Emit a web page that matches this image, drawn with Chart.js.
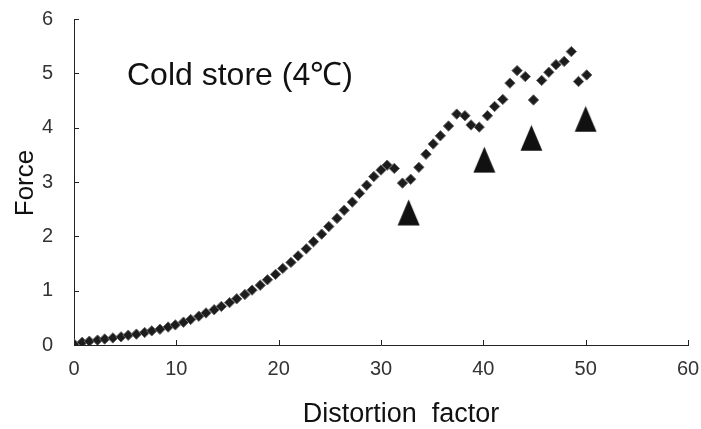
<!DOCTYPE html>
<html>
<head>
<meta charset="utf-8">
<script src="https://cdn.jsdelivr.net/npm/chart.js@4.4.1/dist/chart.umd.min.js"></script>
<style>
  html, body { margin: 0; padding: 0; background: #fff; }
  #wrap { width: 701px; height: 429px; position: relative; }
</style>
</head>
<body>
<div id="wrap"><canvas id="myChart" width="701" height="429"></canvas></div>
<script>
// measured force curve (diamonds)
const distortion = [0.0, 0.8, 1.5, 2.3, 3.0, 3.8, 4.6, 5.3, 6.1, 6.9, 7.6, 8.4, 9.2, 9.9,
    10.7, 11.4, 12.2, 12.9, 13.7, 14.4, 15.2, 15.9, 16.7, 17.4, 18.2, 18.9, 19.7, 20.4,
    21.2, 21.9, 22.7, 23.4, 24.2, 24.9, 25.7, 26.4, 27.2, 27.9, 28.6, 29.3, 30.0, 30.6,
    31.3, 32.1, 32.9, 33.7, 34.4, 35.1, 35.8, 36.6, 37.4, 38.2, 38.8, 39.6, 40.4, 41.1,
    41.9, 42.6, 43.3, 44.1, 44.9, 45.7, 46.4, 47.1, 47.9, 48.6, 49.3, 50.1];
const force = [0.02, 0.05, 0.07, 0.09, 0.11, 0.13, 0.15, 0.18, 0.20, 0.23, 0.26, 0.29, 0.33, 0.37,
    0.42, 0.47, 0.53, 0.59, 0.65, 0.71, 0.78, 0.85, 0.93, 1.01, 1.10, 1.20, 1.30, 1.41,
    1.52, 1.64, 1.77, 1.90, 2.04, 2.18, 2.33, 2.48, 2.63, 2.79, 2.94, 3.10, 3.22, 3.31,
    3.25, 2.98, 3.05, 3.27, 3.51, 3.70, 3.85, 4.03, 4.25, 4.22, 4.05, 4.01, 4.22, 4.39,
    4.52, 4.82, 5.05, 4.94, 4.51, 4.87, 5.02, 5.16, 5.22, 5.40, 4.85, 4.97];

// rupture points (triangles)
const ruptureX = [32.7, 40.1, 44.7, 50.0];
const ruptureY = [2.44, 3.41, 3.81, 4.16];

const xTicks = [0, 10, 20, 30, 40, 50, 60];
const yTicks = [0, 1, 2, 3, 4, 5, 6];

// triangle marker
const tri = document.createElement("canvas");
tri.width = 23;
tri.height = 27;
const tctx = tri.getContext("2d");
tctx.fillStyle = "#111";
tctx.beginPath();
tctx.moveTo(11.5, 0.5);
tctx.lineTo(22.5, 26.5);
tctx.lineTo(0.5, 26.5);
tctx.closePath();
tctx.fill();

// inward tick marks + annotation text
const decorations = {
    id: "decorations",
    afterDraw(chart) {
        const ctx = chart.ctx;
        const xs = chart.scales.x;
        const ys = chart.scales.y;
        const left = chart.chartArea.left;
        const bottom = chart.chartArea.bottom;
        ctx.save();
        ctx.strokeStyle = "#222";
        ctx.lineWidth = 1;
        ctx.beginPath();
        xTicks.forEach(v => {
            const px = Math.round(xs.getPixelForValue(v)) + 0.5;
            ctx.moveTo(px, bottom);
            ctx.lineTo(px, bottom - 5);
        });
        yTicks.forEach(v => {
            const py = Math.round(ys.getPixelForValue(v)) + 0.5;
            ctx.moveTo(left, py);
            ctx.lineTo(left + 5, py);
        });
        ctx.stroke();

        ctx.fillStyle = "#111";
        ctx.textBaseline = "alphabetic";
        ctx.font = "32px 'Liberation Sans', Arial, sans-serif";
        ctx.textAlign = "left";
        ctx.fillText("Cold store (4\u2103)", 127, 85);

        ctx.font = "27px 'Liberation Sans', Arial, sans-serif";
        ctx.textAlign = "center";
        ctx.fillText("Distortion  factor", 401, 422);

        ctx.translate(33, 183);
        ctx.rotate(-Math.PI / 2);
        ctx.font = "26px 'Liberation Sans', Arial, sans-serif";
        ctx.fillText("Force", 0, 0);
        ctx.restore();
    }
};

const ctx = document.getElementById("myChart").getContext("2d");
new Chart(ctx, {
    type: "scatter",
    data: {
        datasets: [{
            label: "Force",
            data: distortion.map((x, i) => ({ x: x, y: force[i] })),
            pointStyle: "rectRot",
            pointRadius: 5.2,
            backgroundColor: "#1c1c1c",
            borderColor: "#666",
            borderWidth: 1
        }, {
            label: "Rupture",
            data: ruptureX.map((x, i) => ({ x: x, y: ruptureY[i] })),
            pointStyle: tri,
            pointRadius: 12
        }]
    },
    options: {
        responsive: false,
        animation: false,
        layout: { padding: { left: 0, right: 13, top: 19, bottom: 0 } },
        plugins: {
            legend: { display: false },
            tooltip: { enabled: false }
        },
        scales: {
            x: {
                type: "linear",
                min: 0,
                max: 60,
                afterFit: scale => {
                    scale.height = 84;
                    scale.paddingLeft = 0;
                    scale.paddingRight = 0;
                },
                afterBuildTicks: scale => { scale.ticks = xTicks.map(v => ({ value: v })); },
                grid: { display: false },
                border: { display: true, color: "#222", width: 1 },
                ticks: {
                    padding: 4,
                    color: "#333",
                    font: { family: "'Liberation Sans', Arial, sans-serif", size: 20 }
                }
            },
            y: {
                type: "linear",
                min: 0,
                max: 6,
                afterFit: scale => {
                    scale.width = 74;
                    scale.paddingTop = 0;
                    scale.paddingBottom = 0;
                },
                afterBuildTicks: scale => { scale.ticks = yTicks.map(v => ({ value: v })); },
                grid: { display: false },
                border: { display: true, color: "#222", width: 1 },
                ticks: {
                    padding: 13,
                    color: "#333",
                    font: { family: "'Liberation Sans', Arial, sans-serif", size: 20 }
                }
            }
        }
    },
    plugins: [decorations]
});
</script>
</body>
</html>
